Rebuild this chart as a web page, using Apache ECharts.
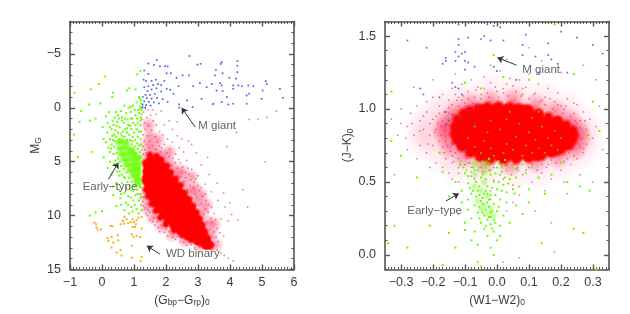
<!DOCTYPE html>
<html><head><meta charset="utf-8">
<style>html,body{margin:0;padding:0;background:#fff}#c{width:630px;height:314px}</style>
<script src="https://cdn.jsdelivr.net/npm/echarts@6/dist/echarts.min.js"></script>
</head><body><div id="c"></div>
<script>
// ---------- left panel: colour-magnitude diagram ----------
const coreRowsL=[
[4.9,1.5,1.65,1.78],[5.4,1.42,1.57,1.72,1.88],[5.9,1.4,1.52,1.67,1.82,1.98],[6.4,1.4,1.52,1.67,1.82,1.97,2.1],
[6.9,1.41,1.53,1.68,1.83,1.98,2.13,2.24],[7.4,1.46,1.6,1.75,1.9,2.05,2.2,2.36],[7.9,1.52,1.65,1.8,1.95,2.1,2.25,2.45],
[8.4,1.6,1.73,1.88,2.03,2.18,2.33,2.48,2.58],[8.9,1.69,1.81,1.96,2.11,2.26,2.41,2.56,2.69],[9.4,1.8,1.91,2.06,2.21,2.36,2.51,2.66,2.79],
[9.9,1.92,2.03,2.18,2.33,2.48,2.63,2.78,2.89],[10.4,2.06,2.16,2.31,2.46,2.61,2.76,2.91,2.98],[10.9,2.24,2.33,2.48,2.63,2.78,2.93,3.05],
[11.4,2.44,2.53,2.68,2.83,2.98,3.12],[11.9,2.68,2.77,2.92,3.07,3.19],[12.35,2.98,3.1,3.26],[12.75,3.24,3.35]];
const rimL=[[1.5,4.4],[1.7,4.5],[1.85,4.9],[2.03,5.4],[2.15,6],[2.3,6.6],[2.45,7.2],[2.58,7.9],[2.72,8.5],[2.84,9.1],[2.95,9.7],[3.05,10.3],[3.14,10.9],[3.22,11.5],[3.3,12.1],[3.38,12.7],[3.1,12.55],[2.8,12.25],[2.5,11.8],[2.25,11.35],[2,10.8],[1.82,10.2],[1.68,9.55],[1.55,8.9],[1.45,8.2],[1.37,7.6],[1.35,5.1],[1.33,6.7]];
const haloL=[[1.42,3.4],[1.62,3.8],[1.82,4.3],[2.02,4.9],[2.2,5.5],[2.38,6.2],[2.56,7],[2.76,7.8],[2.96,8.7],[3.14,9.7],[3.3,10.7],[3.42,11.7],[3.55,12.7],[3.05,12.75],[2.6,12.3],[2.2,11.75],[1.88,11],[1.6,10.2],[1.42,9.3],[1.36,8.3],[1.42,4.4],[2.1,4.1],[2.5,5.9],[2.9,7.5],[3.25,9],[3.5,10.8],[1.5,2.6],[1.75,3],[1.45,1.6],[2.8,6.4],[3.1,8.1]];
const speckL=[[1.3,0.4],[1.4,0.9],[1.33,1.4],[1.52,0.7],[1.6,1.2],[1.45,1.7],[1.7,1.6],[1.35,2],[1.55,2.1],[1.8,2.2],[1.28,2.5],[1.42,2.6],[1.66,2.7],[1.9,2.5],[2.05,2.9],[1.32,3.1],[1.5,3.1],[1.73,3.2],[1.95,3.4],[2.2,3.2],[2.35,2.6],[2.41,3.7],[2.12,3.8],[1.86,3.7],[2.55,4.1],[2.3,4.3],[2.65,4.9],[2.45,5.1],[2.8,5.7],[2.62,6],[3,6.3],[2.78,6.7],[3.22,7.1],[3,7.2],[3.42,7.8],[3.15,8.2],[3.62,8.6],[3.35,9],[3.85,9.2],[3.5,9.8],[4.05,9.9],[3.72,10.3],[3.6,11.2],[4.25,10.4],[3.8,11.9],[1.3,9.1],[1.38,9.8],[1.5,10.4],[1.65,10.9],[1.8,11.5],[2.05,11.9],[2.3,12.2],[2.65,12.75],[2.9,13],[3.6,13.2],[3.72,13.5],[3.82,13.7],[3.95,13.95],[4.1,14.2],[3.48,13.1],[1.85,0.3],[2.1,1.2],[3.45,-0.3],[4.6,1.1],[4.88,1.05],[5.15,0.9],[5.45,0.3],[3.9,3.6],[5.1,5],[4.2,2.3],[3.3,4.6],[2.8,3.4],[1.38,4.2],[1.62,4.4],[1.95,4.6],[2.22,4.7],[2.35,5.6],[2.62,6.5],[2.75,7.2],[2.9,8],[3.1,8.9],[3.24,9.4],[3.4,10.2],[3.5,11.5],[3.62,12.4],[1.45,9.5],[1.72,10.6],[2,11.3],[2.45,12.4],[1.28,8.7],[2.88,6.9],[3.05,7.7],[3.25,8.6],
[1.28,3.6],[1.34,3.9],[1.47,3.7],[1.57,3.5],[1.68,3.9],[1.78,3.55],[1.29,4.3],[1.5,4.15],[1.75,4.4],[1.85,4.1],[2.02,4.2],[2.1,4.55],[2.28,5.1],[2.4,4.8],[2.18,5.3],[2.52,5.5],[2.68,5.6],[2.45,6.4],[2.72,6.2],[2.56,6.8],[2.92,6.6],[2.85,7.4],[2.68,7.6],[3.1,7.4],[2.95,8.3],[2.8,8.4],[3.22,8],[3.02,9],[3.18,9.9],[3.32,9.7],[3.42,9.2],[3.27,10.6],[3.44,10.6],[3.38,11.3],[3.55,10.4],[3.46,12],[3.56,12],[3.68,11.6],[3.5,12.7],[3.42,13.2],[3.25,13.1],[3.05,12.9],[2.78,12.7],[2.55,12.5],[2.22,12],[1.95,11.55],[1.76,11.1],[1.58,10.55],[1.42,10],[1.35,9.3],[1.3,8.3],[1.38,8.9],[1.5,9.7],[1.62,10.2],[1.85,10.9],[2.1,11.5],[2.35,11.95],[2.72,12.45],[1.45,0.2],[1.7,0.6],[1.95,1.6],[2.2,2],[2.5,2.9],[2.7,3.1],[2.95,4.2],[3.1,5.3],[3.35,6.2],[3.6,7],[3.8,7.9],[4,8.8],[3.95,10.5],[4.4,7.6],[4.55,9.2],[2.35,1.3],[1.25,1.1],[1.58,0.2],[1.36,0.1]];
const greenBandL=[[0.52,3.2],[0.64,3.1],[0.76,3.3],[0.55,3.8],[0.68,3.7],[0.82,3.8],[0.94,3.95],[0.6,4.3],[0.72,4.3],[0.86,4.25],[1,4.3],[0.68,4.8],[0.8,4.8],[0.94,4.75],[1.06,4.7],[1.15,4.6],[0.76,5.3],[0.9,5.3],[1.03,5.2],[1.15,5.1],[0.86,5.8],[0.98,5.8],[1.08,5.7],[1.15,5.55],[0.97,6.25],[1.08,6.3],[1.15,6.05],[1.06,6.75],[1.15,6.6],[1.15,7.05]];
const greenL=[[-0.88,2.5],[-0.86,-1.4],[-0.65,0.3],[-0.7,1.3],[-0.35,-1.7],[-0.1,-2.2],[0.1,-2.9],[-0.05,-0.4],[-0.4,-0.3],[-0.2,1],[-0.38,1.2],[-0.75,4.6],[0.02,1.8],[0.18,1.4],[0.12,0.8],[0.22,0.4],[0.32,-1],[0.34,-1.4],[0.85,-1.8],[0.78,-1.6],[1.05,-1.7],[1.2,-3.4],[1.1,-3.1],[1.15,-1],[1.22,-0.4],[1.2,-0.1],[1.08,-0.5],[0.97,-0.2],[0.83,0],[0.7,-0.2],[0.6,0.3],[0.5,0.7],[0.4,0.9],[0.33,1.2],[0.25,1.8],[0.36,1.6],[0.48,1.3],[0.62,0.9],[0.76,0.5],[0.9,0.4],[1.02,0.2],[1.15,0.5],[1.22,0.9],[1.1,1],[0.95,1],[0.8,1.1],[0.68,1.4],[0.55,1.8],[0.42,2.1],[0.32,2.6],[0.25,2.9],[0.43,2.7],[0.58,2.4],[0.72,2],[0.88,1.7],[1.05,1.6],[1.2,1.6],[1.15,2.2],[1,2.3],[0.85,2.5],[0.7,2.7],[0.55,2.9],[0.4,3.1],[0.88,3],[1.04,3],[1.2,2.9],[1.16,3.5],[1.02,3.6],[0.93,3.4],[0.38,3.6],[0.46,4.2],[1.18,4.1],[1.05,4.2],[0.98,4.4],[0.5,4.7],[0.56,5],[1.2,4.6],[0.6,5.4],[0.68,5.7],[0.76,6],[0.85,6.5],[0.93,6.9],[1,7.3],[1.1,7.6],[1.22,7.4],[1.2,8],[1.05,8.1],[0.9,7.6],[0.82,8.2],[0.7,7.9],[0.98,8.6],[1.15,8.6],[1.22,9],[0.92,9.2],[0.75,8.8],[1.08,9.4],[1.15,9.8],[0.7,9.5],[0.57,8.4],[0.45,9.1],[0.85,9.8],[-0.2,9.7],[0,9.6],[-0.38,10],[0.35,7.3],[0.18,5.6],[0.38,5.2],[0.05,4.6],[-0.3,4.1],[0.25,4.1],[0.3,3.4],[0.2,3.7],[0.12,3.2],[0.16,2.3],[0.05,2.9],[0.54,6.3],[0.62,7],[0.47,5.9],[0.72,6.5],[0.35,8.1],
[1.24,0.2],[1.18,0.1],[1.24,0.6],[1.12,0.2],[1.05,0.7],[1.2,1.2],[1.12,1.4],[0.98,1.4],[0.9,1],[0.82,1.6],[0.72,1],[0.78,1.9],[0.65,2.2],[0.92,2],[1.08,2],[1.22,2.2],[1.12,2.7],[0.96,2.7],[0.78,2.3],[0.62,2.6],[0.5,2.3],[0.46,1.7],[0.38,2.5],[0.3,2],[0.78,3],[0.95,3.1],[1.1,3.3],[1.22,3.4],[1.24,3.9],[1.12,3.8],[0.98,3.9],[0.34,3],[0.28,3.8],[0.36,4.3],[0.42,4.9],[0.48,5.5],[0.55,5.9],[0.62,6.2],[0.68,6.4],[0.8,6.9],[0.87,7.2],[1.05,7],[1.18,7.3],[0.98,7.7],[1.12,8],[1.22,8.3],[0.9,8.3],[1.02,9],[1.24,9.5],[0.82,9],[0.6,9],[0.52,7.6],[0.45,7],[0.75,7.4],[0.95,9.6],[0.6,8],[0.3,6.2],[0.25,5],[0.62,1.2],[0.53,1],[0.44,0.4],[0.9,-0.1],[1.22,-0.7],[1.18,-0.9],[1.24,0]];
const blueL=[[1.71,-4.44],[1.45,-4.1],[1.63,-3.97],[1.81,-3.83],[1.97,-3.86],[2.05,-3.83],[1.32,-3.46],[1.45,-3.15],[2.02,-3.2],[2.15,-3.2],[2.73,-4.8],[2.98,-4],[3.08,-4.07],[3.74,-4.23],[3.71,-4.07],[4.23,-4.32],[4.23,-3.9],[3.56,-3.5],[3.77,-3.2],[4.23,-3.3],[3.53,-3],[3.98,-2.78],[4.19,-2.7],[2.52,-3],[2.72,-3],[2.33,-2.78],[5.12,-2.47],[5.15,-2.2],[5.56,-1.76],[5.65,-0.93],[5.02,-1.6],[4.57,-2.07],[4.73,-2],[4.6,-1.3],[4.52,-1.14],[4.99,-0.83],[4.26,-2.07],[4.37,-2],[4.1,-2.07],[4.1,-1.76],[3.74,-2.07],[3.58,-1.6],[3.77,-1.54],[3.43,-2.2],[3.69,-2.28],[3.06,-2.28],[2.85,-2],[3.27,-1.91],[3.11,-0.83],[3.48,-0.37],[3.74,-0.52],[3.9,-0.99],[3.95,-0.31],[4.1,-0.37],[4.52,-0.37],[2.83,-0.06],[2.41,-0.31],[2.41,0],[2.65,-0.68],[2.23,-1.3],[2.13,-1.67],[2.39,-2],[2.02,-1.76],[1.3,-2.6],[1.38,-2.5],[1.55,-2.5],[1.68,-2.6],[1.75,-2.2],[1.6,-2.1],[1.45,-2],[1.32,-1.9],[1.42,-1.55],[1.55,-1.7],[1.7,-1.8],[1.85,-1.5],[1.65,-1.3],[1.5,-1.2],[1.36,-1.2],[1.28,-1],[1.4,-0.9],[1.55,-0.85],[1.72,-0.9],[1.9,-0.8],[2.05,-0.55],[1.32,-0.6],[1.46,-0.55],[1.62,-0.5],[1.78,-0.4],[1.27,-0.3],[1.38,-0.25],[1.52,-0.2],[1.27,-0.05],[1.35,-0.02],[1.95,-2.5],[1.85,-2.1]];
const orangeL=[[-0.24,10.65],[-0.19,10.8],[-0.17,11.1],[-0.13,11.3],[-0.03,11.27],[0.27,10.96],[0.33,11],[0.58,10.8],[0.65,10.5],[0.69,10.74],[0.77,10.34],[0.82,10.7],[0.96,10.34],[1,10.6],[1.08,10.43],[1.14,10.19],[1.24,10.12],[1.06,10.8],[0.96,11.05],[1.03,11.05],[1.24,11.2],[0.93,11.73],[0.98,11.98],[1.08,11.88],[1.19,11.98],[0.17,12.1],[0.2,12.35],[0.3,11.98],[0.49,11.82],[0.35,12.5],[0.3,12.96],[0.58,13.2],[0.46,13.43],[0.61,13.7],[0.93,12.8],[0.93,13.9],[1.24,13.83],[1.21,14.2],[0.51,12.3],[0.7,10.1],[0.9,10.6]];
// ---------- right panel: colour-colour diagram ----------
const coreRowsR=[
[0.985,-0.045,-0.01,0.025,0.06,0.09],[0.945,-0.085,-0.055,-0.025,0.005,0.035,0.065,0.095,0.125],
[0.9,-0.105,-0.08,-0.05,-0.02,0.01,0.04,0.07,0.1,0.13,0.16,0.185],[0.855,-0.115,-0.095,-0.065,-0.035,-0.005,0.025,0.055,0.085,0.115,0.145,0.175,0.205],
[0.81,-0.118,-0.08,-0.05,-0.02,0.01,0.04,0.07,0.1,0.13,0.16,0.19,0.222],[0.765,-0.105,-0.095,-0.065,-0.035,-0.005,0.025,0.055,0.085,0.115,0.145,0.175,0.21],
[0.725,-0.075,-0.05,-0.02,0.01,0.04,0.07,0.1,0.13,0.16,0.18],[0.69,-0.045,-0.025,0.005,0.035,0.065,0.095,0.125]];
const rimR=[[-0.132,0.88],[-0.124,0.93],[-0.105,0.97],[-0.085,0.99],[-0.06,1.005],[-0.03,1.015],[0.005,1.02],[0.04,1.015],[0.07,1.005],[0.1,0.99],[0.13,0.97],[0.16,0.945],[0.19,0.92],[0.215,0.89],[0.235,0.855],[0.24,0.82],[0.235,0.785],[0.225,0.75],[0.2,0.72],[0.17,0.7],[0.14,0.68],[0.1,0.665],[0.06,0.655],[0.02,0.65],[-0.02,0.655],[-0.055,0.675],[-0.085,0.7],[-0.11,0.74],[-0.126,0.785],[-0.133,0.83]];
const haloR=[[-0.15,0.92],[-0.125,0.98],[-0.08,1.03],[-0.02,1.05],[0.05,1.055],[0.12,1.02],[0.18,0.98],[0.225,0.92],[0.25,0.86],[0.258,0.8],[0.24,0.73],[0.19,0.68],[0.12,0.65],[0.04,0.63],[-0.04,0.64],[-0.1,0.68],[-0.145,0.74],[-0.16,0.82],[-0.165,0.87]];
const wideR=[[-0.2,0.96],[-0.235,0.88],[-0.2,0.8],[-0.23,0.78],[-0.17,0.67],[-0.12,0.6],[-0.04,0.56],[0.05,0.56],[0.13,0.58],[0.2,0.62],[0.26,0.7],[0.28,0.8],[0.27,0.9],[0.22,1.01],[0.15,1.08],[0.06,1.12],[-0.02,1.12],[-0.1,1.08],[-0.16,1.03]];
const speckR=[[-0.33,0.93],[-0.31,0.82],[-0.3,1],[-0.28,0.88],[-0.28,0.72],[-0.27,0.97],[-0.26,0.82],[-0.25,1.02],[-0.25,0.66],[-0.24,0.92],[-0.24,0.75],[-0.23,0.86],[-0.22,1.05],[-0.22,0.98],[-0.22,0.7],[-0.21,0.9],[-0.21,0.82],[-0.2,0.75],[-0.2,1.08],[-0.19,0.95],[-0.19,0.86],[-0.19,0.63],[-0.18,1.02],[-0.18,0.78],[-0.18,0.7],[-0.17,1.1],[-0.17,0.92],[-0.17,0.6],[-0.16,0.85],[-0.16,0.66],[-0.15,1.06],[-0.15,0.97],[-0.15,0.56],[-0.14,1.14],[-0.14,0.63],[-0.13,1.1],[-0.13,0.7],[-0.12,0.56],[-0.11,1.06],[-0.11,1.17],[-0.1,0.62],[-0.09,1.12],[-0.08,1.2],[-0.08,0.54],[-0.07,1.08],[-0.06,1.15],[-0.05,0.6],[-0.04,1.22],[-0.03,1.11],[-0.02,1.18],[-0.01,0.5],[0,1.12],[0.01,1.26],[0.02,0.52],[0.03,1.17],[0.04,1.21],[0.05,0.48],[0.06,1.12],[0.07,1.2],[0.08,0.55],[0.09,1.15],[0.1,1.24],[0.11,0.5],[0.12,1.11],[0.13,1.17],[0.14,0.56],[0.15,1.08],[0.16,1.14],[0.17,0.52],[0.18,1.05],[0.19,1.11],[0.2,0.58],[0.21,1],[0.22,1.07],[0.23,0.62],[0.24,0.97],[0.25,1.03],[0.25,0.66],[0.26,0.92],[0.27,0.98],[0.27,0.7],[0.28,0.86],[0.28,0.76],[0.29,0.93],[0.3,0.8],[0.31,0.88],[0.32,1.02],[0.33,0.72],[0.34,0.9],[0.31,1.2],[0.27,1.3],[0.2,1.25],[0.14,1.33],[-0.2,1.2],[-0.26,1.15],[-0.32,0.55],[0.3,0.5],[0.22,0.42],[0.15,0.44],[0.07,0.41],[-0.02,0.44],[0.12,0.3],[0.17,0.22],[0.03,0.3],[0.18,0.02],[0.07,-0.02],[0.02,-0.05],[-0.13,1.24],[0.03,1.34],[-0.02,1.3],[0.1,1.42],[-0.12,0.5],[0.05,0.36],[-0.02,0.38],[0.26,0.55],[0.21,0.5],[-0.21,0.6],[-0.14,0.52],[-0.12,1.02],[-0.1,1.04],[-0.14,0.76],[-0.16,0.78],[-0.175,0.88],[-0.14,0.68],[-0.08,0.6],[-0.02,0.58],[0.06,0.59],[0.1,0.6],[0.16,0.62],[0.22,0.66],[0.26,0.74],[0.25,0.9],[0.2,1.02],[0.14,1.06],[0.08,1.1],[0.02,1.11],[-0.05,1.1],[-0.12,1.08],
[-0.2,0.93],[-0.195,0.84],[-0.185,0.9],[-0.18,0.97],[-0.175,0.82],[-0.17,0.74],[-0.165,0.98],[-0.165,0.7],[-0.155,0.9],[-0.155,0.75],[-0.15,1.01],[-0.145,0.71],[-0.14,1.03],[-0.135,0.64],[-0.125,1.06],[-0.12,0.66],[-0.115,0.62],[-0.105,1.09],[-0.1,1.02],[-0.095,0.66],[-0.09,1.07],[-0.085,0.63],[-0.075,1.04],[-0.07,0.58],[-0.065,1.13],[-0.06,0.65],[-0.05,1.07],[-0.045,0.57],[-0.04,1.14],[-0.03,0.62],[-0.025,1.08],[-0.01,0.6],[-0.005,1.15],[0.005,1.08],[0.015,0.57],[0.02,1.14],[0.03,0.61],[0.035,1.09],[0.045,0.55],[0.05,1.16],[0.055,1.06],[0.065,0.6],[0.075,1.09],[0.08,1.14],[0.09,0.58],[0.1,1.07],[0.11,0.62],[0.115,1.1],[0.125,0.58],[0.135,1.05],[0.14,0.62],[0.15,1.03],[0.155,0.6],[0.165,1.07],[0.17,0.65],[0.175,1],[0.185,0.63],[0.19,1.03],[0.195,0.68],[0.205,0.97],[0.21,0.64],[0.215,1.02],[0.225,0.7],[0.23,0.95],[0.24,0.68],[0.245,0.92],[0.255,0.76],[0.26,0.87],[0.265,0.8],[0.27,0.73],[0.275,0.92],[0.285,0.82],[0.24,1.04],[-0.24,0.85],[-0.23,0.95],[-0.215,0.76],[-0.265,0.9],[-0.285,0.8],[-0.3,0.9]];
const greenBandR=[[-0.05,0.44],[-0.03,0.4],[-0.06,0.37],[-0.04,0.34],[-0.02,0.32],[-0.05,0.31],[-0.03,0.28],[-0.01,0.27],[-0.04,0.5],[-0.07,0.55],[-0.04,0.57],[-0.07,0.47],[-0.07,0.62],[-0.03,0.63]];
const greenR=[[-0.32,0.2],[-0.34,0.08],[-0.28,0.05],[-0.25,0.53],[-0.21,0.2],[-0.33,0.78],[-0.3,0.68],[-0.18,0.7],[-0.17,0.57],[-0.15,0.4],[-0.15,0.15],[-0.17,-0.07],[-0.13,0.05],[-0.12,0.28],[-0.13,0.5],[-0.12,0.6],[-0.11,0.44],[-0.11,0.36],[-0.1,0.56],[-0.1,0.22],[-0.1,0.17],[-0.09,0.49],[-0.09,0.38],[-0.09,0.31],[-0.09,0.63],[-0.08,0.42],[-0.08,0.25],[-0.08,0.1],[-0.08,0.57],[-0.07,0.34],[-0.07,0.16],[-0.07,0.52],[-0.06,0.44],[-0.06,0.29],[-0.06,0.07],[-0.06,-0.05],[-0.06,0.58],[-0.05,0.22],[-0.05,0.37],[-0.05,0.53],[-0.05,-0.08],[-0.04,0.27],[-0.04,0.18],[-0.04,0.42],[-0.04,0.61],[-0.03,0.13],[-0.03,0.47],[-0.03,0.24],[-0.03,0.36],[-0.02,0.05],[-0.02,0.21],[-0.02,0.41],[-0.02,0.55],[-0.02,0.29],[-0.01,0.16],[-0.01,0.35],[-0.01,0],[-0.01,0.51],[-0.01,0.24],[0,0.1],[0,0.3],[0,0.45],[0,0.6],[0.01,0.2],[0.01,0.38],[0.01,0.55],[0.01,0.13],[0.02,0.27],[0.02,0.48],[0.02,0.62],[0.03,0.43],[0.03,0.36],[0.03,0.58],[0.04,0.22],[0.04,0.52],[0.05,0.45],[0.05,0.6],[0.06,0.34],[0.06,0.53],[0.07,0.47],[0.08,0.62],[0.08,0.28],[0.09,0.56],[0.1,0.45],[0.1,0.36],[0.11,0.6],[0.13,0.53],[0.14,0.08],[0.15,0.42],[0.17,0.55],[0.2,0.63],[0.22,0.5],[0.24,0.18],[0.27,0.15],[0.26,0.47],[0.29,0.44],[0.31,-0.1],[0.24,1.24],[0.1,1.2],[0.02,1.22],[-0.1,1.18],[-0.05,1.14],[0.3,1.05],[0.28,0.82],[0.32,0.85],[-0.33,1.12],[0.18,1.58],[-0.01,1.37],
[-0.115,0.64],[-0.105,0.6],[-0.095,0.58],[-0.09,0.54],[-0.085,0.46],[-0.075,0.6],[-0.075,0.44],[-0.065,0.64],[-0.065,0.5],[-0.065,0.4],[-0.055,0.6],[-0.055,0.47],[-0.055,0.33],[-0.055,0.25],[-0.045,0.64],[-0.045,0.55],[-0.045,0.39],[-0.045,0.29],[-0.035,0.6],[-0.035,0.52],[-0.035,0.44],[-0.035,0.31],[-0.035,0.2],[-0.025,0.66],[-0.025,0.58],[-0.025,0.38],[-0.025,0.33],[-0.025,0.26],[-0.015,0.62],[-0.015,0.46],[-0.015,0.3],[-0.015,0.18],[-0.005,0.56],[-0.005,0.41],[-0.005,0.22],[0.005,0.64],[0.005,0.5],[0.005,0.33],[0.015,0.44],[0.015,0.6],[0.025,0.53],[0.025,0.65],[0.035,0.49],[0.045,0.63],[0.055,0.42],[0.065,0.58],[-0.045,0.35],[-0.055,0.41],[-0.02,0.26],[-0.03,0.42]];
const greenInCoreR=[[-0.05,0.7],[-0.02,0.73],[-0.07,0.74],[-0.04,0.78],[-0.01,0.68],[0.02,0.7],[0.03,0.76],[0.05,0.72],[0.06,0.81],[0.08,0.68],[0.09,0.75],[0.1,0.84],[0.11,0.7],[0.12,0.79],[0.13,0.73],[0.14,0.88],[0.15,0.7],[0.16,0.8],[0.17,0.75],[0.18,0.85],[0.19,0.72],[0.2,0.8],[0.01,0.86],[-0.03,0.84],[-0.07,0.88],[-0.02,0.92],[0.03,0.93],[0.07,0.9],[0.11,0.94],[-0.09,0.8],[0.04,0.98],[0.13,0.98]];
const blueR=[[-0.28,1.47],[-0.22,1.42],[-0.12,1.58],[-0.07,1.6],[-0.03,1.58],[-0.01,1.57],[0.01,1.56],[-0.12,1.48],[-0.09,1.49],[-0.05,1.48],[-0.04,1.5],[-0.02,1.47],[0.02,1.47],[0.09,1.51],[0.08,1.44],[0.16,1.45],[0.2,1.53],[0.25,1.49],[0.3,1.44],[0.33,1.38],[-0.12,1.44],[-0.13,1.39],[-0.11,1.38],[-0.1,1.39],[-0.12,1.36],[-0.1,1.33],[-0.13,1.33],[-0.16,1.33],[-0.17,1.31],[-0.16,1.35],[-0.09,1.32],[-0.07,1.29],[-0.1,1.27],[0,1.26],[-0.01,1.29],[0.08,1.37],[0.12,1.36],[0.17,1.34],[0.16,1.37],[0.19,1.31],[0.22,1.25],[0.13,1.25],[0.06,1.2],[-0.14,1.18],[-0.13,1.15],[-0.12,1.14],[-0.18,1.08],[-0.23,1.1],[-0.24,1.14],[-0.11,1.1],[-0.16,0.98],[-0.14,0.96],[-0.12,0.93],[-0.15,0.92],[-0.16,0.89],[-0.13,0.87],[-0.12,0.78],[-0.14,0.76],[-0.1,0.72],[-0.07,0.9],[-0.09,0.95],[-0.06,1.02],[-0.09,0.99]];
// ---------- axes and annotation text ----------
const xTicksL=[-1,0,1,2,3,4,5,6], yTicksL=[-5,0,5,10,15];
const xTicksR=[-0.3,-0.2,-0.1,0,0.1,0.2,0.3], yTicksR=[0,0.5,1,1.5];
const notesL=[['M giant',3.01,1.64,'left'],['Early\u2212type',0.25,7.35,'center'],['WD binary',2,13.58,'left']];
const notesR=[['M giant',0.079,1.272,'left'],['Early\u2212type',-0.195,0.303,'center']];
const arrowsL=[[2.91,1.79,2.49,0],[0.2,6.64,0.51,5.09],[1.81,13.58,1.4,12.8]];
const arrowsR=[[0.061,1.301,0.001,1.352],[-0.16,0.369,-0.119,0.421]];

const INK='#3a3a3a', FONT='"Liberation Sans",Arial,sans-serif';
const flat=rows=>rows.flatMap(r=>r.slice(1).map(x=>[x,r[0]]));
function minor(lo,hi,step){const a=[];const n=Math.round((hi-lo)/step);for(let i=0;i<=n;i++)a.push(+(lo+i*step).toFixed(4));return a;}
const fmt=d=>v=>{const s=d?Math.abs(v).toFixed(d):String(Math.abs(v));return (v<-1e-9?'\u2212':'')+s;};
function axes(kind,grid,min,max,major,minr,pos,other,extra,digits,inverse){
  const base={type:'value',gridIndex:grid,min,max,inverse:!!inverse,splitLine:{show:false},minorTick:{show:false}};
  const mk=(position,vals,len,main,label)=>Object.assign({},base,{position,
    axisLine:{show:main,onZero:false,lineStyle:{color:'#555',width:1.6}},
    axisTick:{show:true,inside:true,length:len,customValues:vals,lineStyle:{color:'#555',width:len>3?1.4:1}},
    axisLabel:label?{show:true,customValues:vals,formatter:fmt(digits),color:INK,fontSize:12.5,fontFamily:FONT,margin:kind==='x'?7:9}:{show:false}},
    label?extra:{});
  return [mk(pos,major,5,true,true),mk(pos,minr,2.5,false,false),mk(other,major,5,true,false),mk(other,minr,2.5,false,false)];
}
const sub={fontSize:8.5,color:INK,fontFamily:FONT,padding:[5,0,0,0]};
const nameStyle={fontSize:12,color:INK,fontFamily:FONT,rich:{s:sub}};
const xAxis=[
 ...axes('x',0,-1,6,xTicksL,minor(-1,6,0.1),'bottom','top',{name:'(G{s|bp}\u2212G{s|rp}){s|0}',nameLocation:'middle',nameGap:24,nameTextStyle:nameStyle},0),
 ...axes('x',1,-0.35,0.35,xTicksR,minor(-0.35,0.35,0.01),'bottom','top',{name:'(W1\u2212W2){s|0}',nameLocation:'middle',nameGap:24,nameTextStyle:nameStyle},1)];
const yAxis=[
 ...axes('y',0,-8,15,yTicksL,minor(-8,15,1),'left','right',{name:'M{s|G}',nameLocation:'middle',nameGap:26,nameTextStyle:nameStyle},0,true),
 ...axes('y',1,-0.1,1.6,yTicksR,minor(-0.1,1.6,0.1),'left','right',{name:'(J\u2212K){s|0}',nameLocation:'middle',nameGap:30,nameTextStyle:nameStyle},1)];
const soft=(rgb,a,solid)=>new echarts.graphic.RadialGradient(0.5,0.5,0.5,[
  {offset:0,color:`rgba(${rgb},${a})`},{offset:solid,color:`rgba(${rgb},${a})`},{offset:1,color:`rgba(${rgb},0)`}]);
function sc(name,data,panel,size,color,opacity,z,symbol){
  const idx=panel*4;
  return {type:'scatter',name,data,xAxisIndex:idx,yAxisIndex:idx,symbol:symbol||'circle',symbolSize:size,silent:true,z,animation:false,
    itemStyle:{color,opacity,borderWidth:0}};
}
function notes(list,panel){
  const idx=panel*4;
  return {type:'scatter',data:list.map(n=>({value:[n[1],n[2]],label:{show:true,position:n[3]==='left'?'right':'inside',distance:0,formatter:n[0],color:INK,fontSize:11.5,fontFamily:FONT}})),
    xAxisIndex:idx,yAxisIndex:idx,symbolSize:0.01,silent:true,z:9,animation:false};
}
function arrows(list,panel){
  const idx=panel*4;
  return {type:'lines',coordinateSystem:'cartesian2d',xAxisIndex:idx,yAxisIndex:idx,silent:true,z:9,animation:false,
    lineStyle:{color:'#333',width:1,opacity:1},symbol:['none','arrow'],symbolSize:6,
    data:list.map(a=>({coords:[[a[0],a[1]],[a[2],a[3]]]}))};
}
const ROSE='#d8305f',LIME='#66ff00',BLUE='#3a50e8',GOLD='#f5b21a';
const series=[
 sc('haloL',haloL,0,17,soft('255,30,80',0.5,0),1,2),
 sc('speckL',speckL,0,1.5,ROSE,0.65,3,'rect'),
 sc('coreL',flat(coreRowsL),0,11,soft('255,0,0',1,0.6),1,4),
 sc('rimL',rimL,0,10,soft('255,0,0',1,0.35),1,4),
 sc('bandL',greenBandL,0,9,soft('102,255,0',0.85,0.3),1,5),
 sc('greenL',greenL,0,2,LIME,1,5,'rect'),
 sc('blueL',blueL,0,1.7,BLUE,0.9,6,'rect'),
 sc('orangeL',orangeL,0,2,GOLD,1,6,'rect'),
 notes(notesL,0),arrows(arrowsL,0),
 sc('wideR',wideR,1,40,soft('255,60,110',0.13,0),1,2),
 sc('haloR',haloR,1,28,soft('255,10,60',0.5,0),1,2),
 sc('speckR',speckR,1,1.5,ROSE,0.65,3,'rect'),
 sc('coreR',flat(coreRowsR),1,17,soft('255,0,0',1,0.62),1,4),
 sc('rimR',rimR,1,14,soft('255,0,0',1,0.4),1,4),
 sc('bandR',greenBandR,1,9,soft('102,255,0',0.55,0),1,5),
 sc('greenR',greenR,1,2,LIME,1,5,'rect'),
 sc('greenInCoreR',greenInCoreR,1,1.8,'#7fd000',0.8,5,'rect'),
 sc('blueR',blueR,1,1.7,BLUE,0.85,6,'rect'),
 notes(notesR,1),arrows(arrowsR,1)
];
const chart=echarts.init(document.getElementById('c'),null,{renderer:'canvas'});
chart.setOption({animation:false,backgroundColor:'#fff',
 grid:[{left:70,top:21.5,width:224,height:248},{left:385,top:21.5,width:224,height:248}],
 xAxis,yAxis,series});
</script></body></html>
